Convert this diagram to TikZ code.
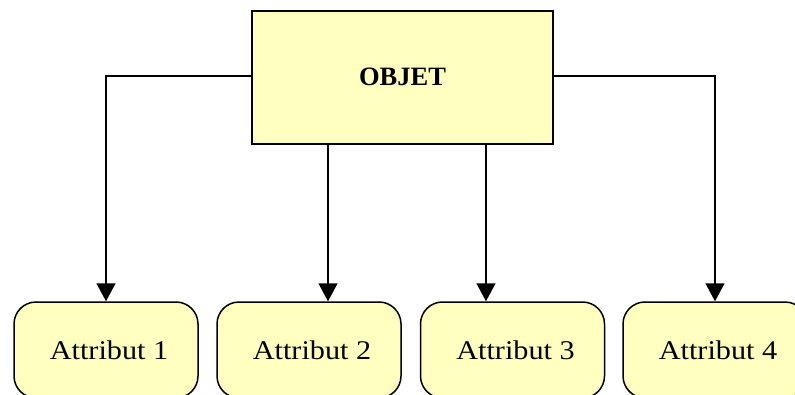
\documentclass[tikz,border=0pt]{standalone}
\usepackage{fontspec}
\setmainfont{Liberation Serif}
\usetikzlibrary{arrows.meta}
\definecolor{boxfill}{HTML}{FFFFC0}
\newcommand{\attrtext}[1]{\hspace*{6pt}\scalebox{1.12}[1]{#1}}
\begin{document}
\begin{tikzpicture}[x=1pt,y=-1pt,
  objbox/.style={draw=black,line width=1.5pt,fill=boxfill,minimum width=301pt,minimum height=133pt,inner sep=0pt,font=\bfseries\fontsize{26.5}{30}\selectfont},
  attrbox/.style={draw=black,line width=1.5pt,fill=boxfill,rounded corners=22pt,minimum width=184pt,minimum height=96pt,inner sep=0pt,font=\fontsize{27}{30}\selectfont},
  conn/.style={line width=1.5pt,-{Triangle[length=18pt,width=19pt]}}]
\useasboundingbox (0,0) rectangle (795,394);
\node[objbox] (obj) at (402.5,77.5) {\raisebox{1.5pt}{OBJET}};
\node[attrbox] (a1) at (106,350) {\attrtext{Attribut 1}};
\node[attrbox] (a2) at (309,350) {\attrtext{Attribut 2}};
\node[attrbox] (a3) at (512.5,350) {\attrtext{Attribut 3}};
\node[attrbox] (a4) at (715,350) {\attrtext{Attribut 4}};
\draw[conn] (obj.west |- 0,76) -| (a1.north);
\draw[conn] (obj.east |- 0,76) -| (a4.north);
\draw[conn] (obj.south -| 328,0) -- (a2.north -| 328,0);
\draw[conn] (obj.south -| 486,0) -- (a3.north -| 486,0);
\end{tikzpicture}
\end{document}
